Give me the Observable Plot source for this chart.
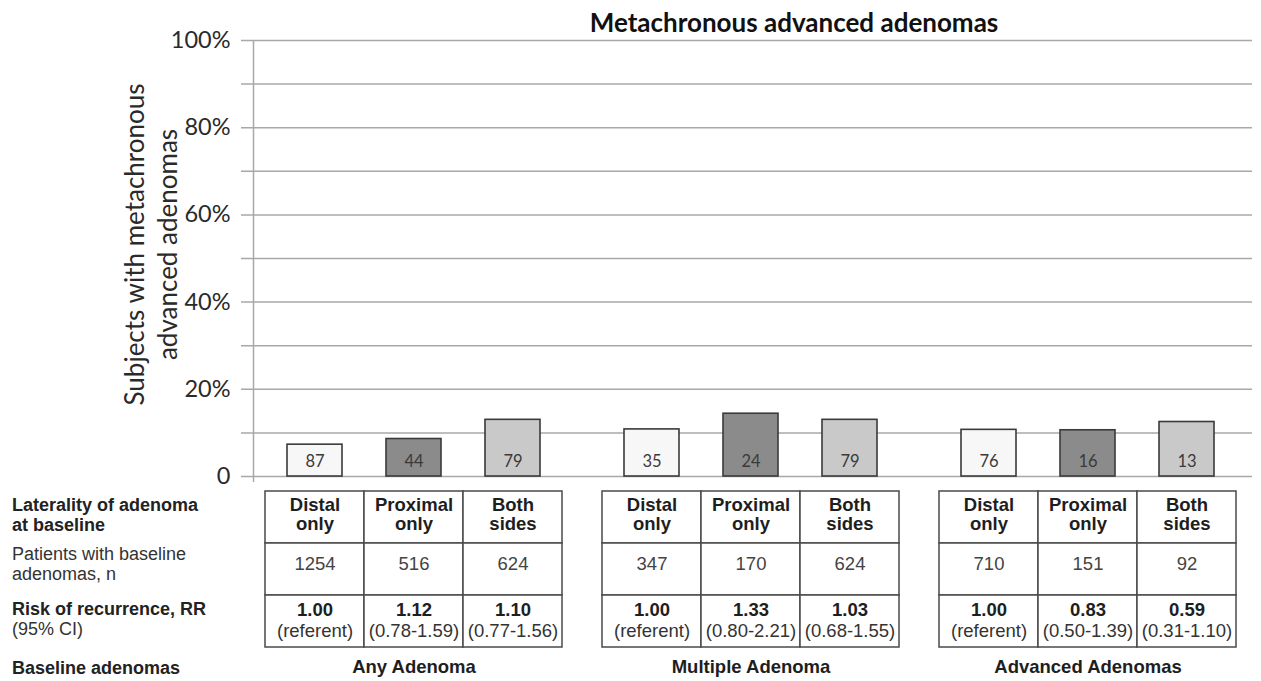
<!DOCTYPE html>
<html>
<head>
<meta charset="utf-8">
<script src="https://cdn.jsdelivr.net/npm/d3@7"></script>
<script src="https://cdn.jsdelivr.net/npm/@observablehq/plot@0.6"></script>
<style>
  html, body { margin: 0; padding: 0; background: #fff; }
  #wrap { position: relative; width: 1261px; height: 681px; overflow: hidden; background: #fff; }
  #wrap > svg, #wrap > div { position: absolute; }
  .title { font-family: Lato, sans-serif; font-weight: 700; font-size: 26px; line-height: 30px; color: #111; white-space: nowrap; }
  .rowlab { font-family: "Liberation Sans", Arial, sans-serif; font-size: 18px; line-height: 20px; color: #333; white-space: nowrap; }
  .rowlab b { color: #222; }
</style>
</head>
<body>
<div id="wrap"></div>
<script>
// ---- data ----
const groups = ["Any Adenoma", "Multiple Adenoma", "Advanced Adenomas"];
const laterality = ["Distal only", "Proximal only", "Both sides"];
const pctAny = [0.073, 0.086, 0.130];
const pctMultiple = [0.108, 0.144, 0.130];
const pctAdvanced = [0.107, 0.106, 0.125];
const countAny = [87, 44, 79];
const countMultiple = [35, 24, 79];
const countAdvanced = [76, 16, 13];
const patientsAny = [1254, 516, 624];
const patientsMultiple = [347, 170, 624];
const patientsAdvanced = [710, 151, 92];
const rrAny = ["1.00", "1.12", "1.10"];
const rrMultiple = ["1.00", "1.33", "1.03"];
const rrAdvanced = ["1.00", "0.83", "0.59"];
const ciAny = ["(referent)", "(0.78-1.59)", "(0.77-1.56)"];
const ciMultiple = ["(referent)", "(0.80-2.21)", "(0.68-1.55)"];
const ciAdvanced = ["(referent)", "(0.50-1.39)", "(0.31-1.10)"];
const yGridTicks = [0, 0.1, 0.2, 0.3, 0.4, 0.5, 0.6, 0.7, 0.8, 0.9, 1.0];
const yLabelTicks = [0, 0.2, 0.4, 0.6, 0.8, 1.0];
const tableRows = ["Laterality", "Patients", "Risk"];
const chartTitle = "Metachronous advanced adenomas";
const yTitle = "Subjects with metachronous\nadvanced adenomas";

const pcts = [pctAny, pctMultiple, pctAdvanced];
const counts = [countAny, countMultiple, countAdvanced];
const patients = [patientsAny, patientsMultiple, patientsAdvanced];
const rrs = [rrAny, rrMultiple, rrAdvanced];
const cis = [ciAny, ciMultiple, ciAdvanced];

const records = groups.flatMap((g, i) => laterality.map((lat, j) => ({
  group: g, lat, pct: pcts[i][j], count: counts[i][j],
  n: patients[i][j], rr: rrs[i][j], ci: cis[i][j]
})));
const cells = records.flatMap(r => tableRows.map(row => ({...r, row})));

const wrap = document.getElementById("wrap");
const W = 1261;
const sans = "Lato, sans-serif";
const arial = "'Liberation Sans', Arial, sans-serif";

// ---- base: grid, axis, y title ----
const base = Plot.plot({
  width: W, height: 490,
  marginTop: 40, marginBottom: 14, marginLeft: 253, marginRight: 9,
  style: {background: "transparent", fontFamily: sans, overflow: "visible"},
  x: {domain: [0, 1], axis: null},
  y: {domain: [0, 1], axis: null},
  marks: [
    Plot.ruleY(yGridTicks, {y: d => d, stroke: "#a8a8a8", strokeWidth: 1.5, insetLeft: -12}),
    Plot.ruleX([0], {stroke: "#a8a8a8", strokeWidth: 1.5, insetBottom: -6}),
    Plot.axisY(yLabelTicks, {
      tickSize: 0, tickPadding: 23, fontSize: 23.5, fill: "#2a2a2a",
      tickFormat: d => d === 0 ? "0" : `${Math.round(d * 100)}%`
    }),
    Plot.text([yTitle], {
      frameAnchor: "left", textAnchor: "middle", lineAnchor: "middle", rotate: -90, dx: -104, dy: -14,
      fontSize: 26, lineHeight: 1.28, fill: "#2a2a2a", text: d => d
    })
  ]
});
base.style.left = "0px"; base.style.top = "0px";
wrap.appendChild(base);

// ---- bars ----
const bars = Plot.plot({
  width: W, height: 490,
  marginTop: 40, marginBottom: 14, marginLeft: 244, marginRight: 5,
  style: {background: "transparent", fontFamily: sans, overflow: "visible"},
  fx: {domain: groups, padding: 0, axis: null},
  x: {domain: laterality, paddingInner: 0.4472, paddingOuter: 0.4188, axis: null},
  y: {domain: [0, 1], axis: null},
  color: {domain: laterality, range: ["#f7f7f7", "#8b8b8b", "#c9c9c9"]},
  marks: [
    Plot.barY(records, {fx: "group", x: "lat", y: "pct", fill: "lat", stroke: "#3a3a3a", strokeWidth: 1.6}),
    Plot.text(records, {fx: "group", x: "lat", y: () => 0, text: "count", dy: -15, fontSize: 16.5, fill: "#3a3a3a"})
  ]
});
bars.style.left = "0px"; bars.style.top = "0px";
wrap.appendChild(bars);

// ---- table ----
const table = Plot.plot({
  width: W, height: 195,
  marginTop: 5, marginBottom: 34, marginLeft: 244, marginRight: 5,
  style: {background: "transparent", fontFamily: arial, overflow: "visible"},
  fx: {domain: groups, padding: 0, axis: null},
  x: {domain: laterality, paddingInner: 0, paddingOuter: 0.195, axis: null},
  y: {domain: tableRows, padding: 0, axis: null},
  marks: [
    Plot.cell(cells, {fx: "group", x: "lat", y: "row", fill: "white", stroke: "#4a4a4a", strokeWidth: 1.5}),
    Plot.text(records, {fx: "group", x: "lat", y: () => tableRows[0], text: d => d.lat.replace(" ", "\n"),
      fontSize: 18.5, fontWeight: "bold", lineHeight: 1.05, fill: "#1e1e1e", dy: -3}),
    Plot.text(records, {fx: "group", x: "lat", y: () => tableRows[1], text: d => String(d.n),
      fontSize: 18.5, fill: "#444", dy: -5}),
    Plot.text(records, {fx: "group", x: "lat", y: () => tableRows[2], text: "rr",
      fontSize: 18.5, fontWeight: "bold", fill: "#1e1e1e", dy: -11}),
    Plot.text(records, {fx: "group", x: "lat", y: () => tableRows[2], text: "ci",
      fontSize: 18.5, fill: "#333", dy: 10}),
    Plot.text(groups, {fx: d => d, frameAnchor: "bottom", text: d => d, dy: 25,
      fontSize: 18.5, fontWeight: "bold", fill: "#1e1e1e"})
  ]
});
table.style.left = "0px"; table.style.top = "486px";
wrap.appendChild(table);

// ---- title and row labels ----
const t = document.createElement("div");
t.className = "title";
t.textContent = chartTitle;
t.style.left = "794px"; t.style.top = "7px"; t.style.transform = "translateX(-50%)";
wrap.appendChild(t);

const rowLabels = [
  {html: "<b>Laterality of adenoma<br>at baseline</b>", top: 495},
  {html: "Patients with baseline<br>adenomas, n", top: 544},
  {html: "<b>Risk of recurrence, RR</b><br>(95% CI)", top: 599},
  {html: "<b>Baseline adenomas</b>", top: 658}
];
for (const r of rowLabels) {
  const d = document.createElement("div");
  d.className = "rowlab";
  d.innerHTML = r.html;
  d.style.left = "12px"; d.style.top = r.top + "px";
  wrap.appendChild(d);
}
</script>
</body>
</html>
